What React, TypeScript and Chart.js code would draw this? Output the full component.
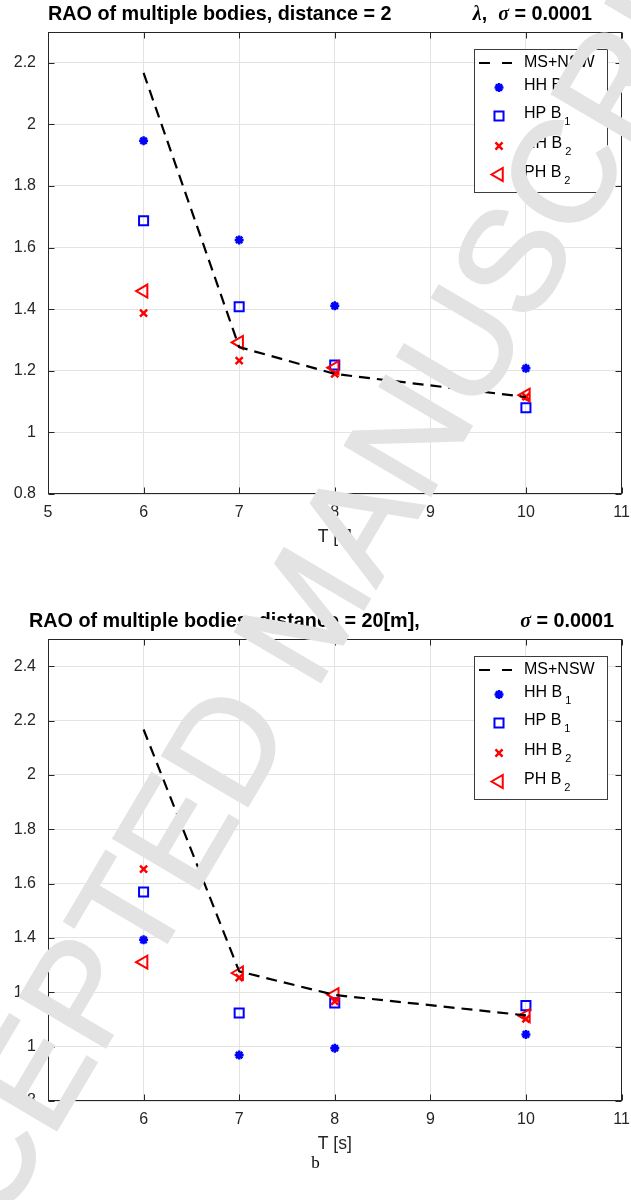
import React, { useEffect, useRef } from "react";
import { Chart, registerables } from "chart.js";

Chart.register(...registerables);

// Wave periods T [s] at which the RAOs were evaluated
const periods = [6, 7, 8, 10];
const xTickValues = [5, 6, 7, 8, 9, 10, 11];

// MS+NSW reference curve (identical in both panels)
const msNsw = [2.167, 1.277, 1.19, 1.115];

// Upper panel: distance = 2
const hhB1Near = [1.947, 1.625, 1.411, 1.208];
const hpB1Near = [1.687, 1.408, 1.219, 1.08];
const hhB2Near = [1.387, 1.233, 1.19, 1.116];
const phB2Near = [1.459, 1.292, 1.21, 1.121];

// Lower panel: distance = 20 m
const hhB1Far = [1.393, 0.969, 0.994, 1.045];
const hpB1Far = [1.569, 1.124, 1.161, 1.151];
const hhB2Far = [1.653, 1.254, 1.167, 1.102];
const phB2Far = [1.311, 1.271, 1.191, 1.114];

// Legend text: main label plus subscript
const legendMain = ["MS+NSW", "HH B", "HP B", "HH B", "PH B"];
const legendSub = ["", "1", "1", "2", "2"];

const AXIS = "#262626";
const GRID = "#e3e3e3";
const BLUE = "#0000ff";
const RED = "#ff0000";
const SANS = '"Liberation Sans", Arial, Helvetica, sans-serif';
const SERIF = '"Liberation Serif", "DejaVu Serif", Times, serif';

type TitlePiece = { text: string; greek?: boolean };
type Panel = {
  hhB1: number[];
  hpB1: number[];
  hhB2: number[];
  phB2: number[];
  yMax: number;
  titleLeft: string;
  titleLeftX: number;
  titleRight: TitlePiece[];
  titleRightEnd: number;
};

const panelNear: Panel = {
  hhB1: hhB1Near,
  hpB1: hpB1Near,
  hhB2: hhB2Near,
  phB2: phB2Near,
  yMax: 2.3,
  titleLeft: "RAO of multiple bodies, distance = 2",
  titleLeftX: 48,
  titleRight: [{ text: "λ", greek: true }, { text: ",  " }, { text: "σ", greek: true }, { text: " = 0.0001" }],
  titleRightEnd: 592,
};

const panelFar: Panel = {
  hhB1: hhB1Far,
  hpB1: hpB1Far,
  hhB2: hhB2Far,
  phB2: phB2Far,
  yMax: 2.5,
  titleLeft: "RAO of multiple bodies, distance = 20[m],",
  titleLeftX: 29,
  titleRight: [{ text: "σ", greek: true }, { text: " = 0.0001" }],
  titleRightEnd: 614,
};

const pts = (ys: number[]) => periods.map((x, i) => ({ x, y: ys[i] }));

function drawMarker(ctx: CanvasRenderingContext2D, kind: number, x: number, y: number) {
  ctx.save();
  ctx.setLineDash([]);
  ctx.beginPath();
  if (kind === 1) {
    const r = 4.5;
    const d = r * Math.SQRT1_2;
    ctx.moveTo(x - r, y); ctx.lineTo(x + r, y);
    ctx.moveTo(x, y - r); ctx.lineTo(x, y + r);
    ctx.moveTo(x - d, y - d); ctx.lineTo(x + d, y + d);
    ctx.moveTo(x - d, y + d); ctx.lineTo(x + d, y - d);
    ctx.strokeStyle = BLUE; ctx.lineWidth = 2.5; ctx.stroke();
  } else if (kind === 2) {
    const s = 6.4 * Math.SQRT1_2;
    ctx.rect(x - s, y - s, 2 * s, 2 * s);
    ctx.strokeStyle = BLUE; ctx.lineWidth = 2; ctx.stroke();
  } else if (kind === 3) {
    const d = 5 * Math.SQRT1_2;
    ctx.moveTo(x - d, y - d); ctx.lineTo(x + d, y + d);
    ctx.moveTo(x - d, y + d); ctx.lineTo(x + d, y - d);
    ctx.strokeStyle = RED; ctx.lineWidth = 2.5; ctx.stroke();
  } else if (kind === 4) {
    const r = 7.5;
    ctx.moveTo(x - r, y);
    ctx.lineTo(x + r / 2, y - r * 0.866);
    ctx.lineTo(x + r / 2, y + r * 0.866);
    ctx.closePath();
    ctx.strokeStyle = RED; ctx.lineWidth = 2; ctx.stroke();
  }
  ctx.restore();
}

function makeFramePlugin(panel: Panel) {
  return {
    id: "frame",
    afterDraw(chart: any) {
      const { ctx, chartArea: a, scales } = chart;
      ctx.save();

      // axes box
      const L = Math.round(a.left) + 0.5;
      const R = Math.round(a.right) - 0.5;
      const T = Math.round(a.top) + 0.5;
      const B = Math.round(a.bottom) - 0.5;
      ctx.strokeStyle = AXIS;
      ctx.lineWidth = 1;
      ctx.strokeRect(L, T, R - L, B - T);

      // inward tick marks on all four sides
      const tl = 6;
      ctx.beginPath();
      for (const v of xTickValues) {
        const px = Math.round(scales.x.getPixelForValue(v)) + 0.5;
        ctx.moveTo(px, B); ctx.lineTo(px, B - tl);
        ctx.moveTo(px, T); ctx.lineTo(px, T + tl);
      }
      for (const t of scales.y.ticks) {
        const py = Math.round(scales.y.getPixelForValue(t.value)) + 0.5;
        ctx.moveTo(L, py); ctx.lineTo(L + tl, py);
        ctx.moveTo(R, py); ctx.lineTo(R - tl, py);
      }
      ctx.stroke();

      // legend box
      const lx0 = 474.5, lx1 = 607.5;
      const ly0 = Math.round(a.top) + 17.5;
      const ly1 = ly0 + 143;
      ctx.fillStyle = "#ffffff";
      ctx.fillRect(lx0, ly0, lx1 - lx0, ly1 - ly0);
      ctx.strokeStyle = "#3c3c3c";
      ctx.lineWidth = 1;
      ctx.strokeRect(lx0, ly0, lx1 - lx0, ly1 - ly0);

      const rowY = [ly0 + 13.5, ly0 + 38, ly0 + 66.5, ly0 + 96.5, ly0 + 125];
      // dashed-line sample
      ctx.beginPath();
      ctx.moveTo(479, rowY[0]); ctx.lineTo(490, rowY[0]);
      ctx.moveTo(502, rowY[0]); ctx.lineTo(512, rowY[0]);
      ctx.strokeStyle = "#000"; ctx.lineWidth = 2.2; ctx.stroke();
      for (let k = 1; k < 5; k++) drawMarker(ctx, k, 499, rowY[k]);

      ctx.fillStyle = "#000";
      ctx.textBaseline = "middle";
      ctx.textAlign = "left";
      for (let k = 0; k < 5; k++) {
        const ty = k === 0 ? rowY[0] : rowY[k] - 2;
        ctx.font = `16px ${SANS}`;
        ctx.fillText(legendMain[k], 524, ty);
        if (legendSub[k]) {
          const w = ctx.measureText(legendMain[k]).width;
          ctx.font = `11px ${SANS}`;
          ctx.fillText(legendSub[k], 524 + w + 3, ty + 8);
        }
      }

      // title
      const titleY = Math.round(a.top) - 17;
      ctx.fillStyle = "#000";
      ctx.font = `bold 19.8px ${SANS}`;
      ctx.fillText(panel.titleLeft, panel.titleLeftX, titleY);
      const fonts = panel.titleRight.map((p) =>
        p.greek ? `italic bold 20px ${SERIF}` : `bold 19.8px ${SANS}`
      );
      const widths = panel.titleRight.map((p, i) => {
        ctx.font = fonts[i];
        return ctx.measureText(p.text).width;
      });
      let x = panel.titleRightEnd - widths.reduce((s, w) => s + w, 0);
      panel.titleRight.forEach((p, i) => {
        ctx.font = fonts[i];
        ctx.fillText(p.text, x, titleY);
        x += widths[i];
      });

      ctx.restore();
    },
  };
}

function buildConfig(panel: Panel): any {
  return {
    type: "line",
    data: {
      datasets: [
        {
          label: "MS+NSW",
          data: pts(msNsw),
          borderColor: "#000000",
          borderWidth: 2.2,
          borderDash: [11, 7],
          pointRadius: 0,
          fill: false,
          tension: 0,
          order: 0,
        },
        {
          label: "HH B1",
          data: pts(panel.hhB1),
          showLine: false,
          pointStyle: "star",
          pointRadius: 4.5,
          pointBorderWidth: 2.5,
          borderColor: BLUE,
          pointBorderColor: BLUE,
          pointBackgroundColor: BLUE,
          order: 4,
        },
        {
          label: "HP B1",
          data: pts(panel.hpB1),
          showLine: false,
          pointStyle: "rect",
          pointRadius: 6.4,
          pointBorderWidth: 2,
          borderColor: BLUE,
          pointBorderColor: BLUE,
          pointBackgroundColor: "rgba(0,0,0,0)",
          order: 3,
        },
        {
          label: "HH B2",
          data: pts(panel.hhB2),
          showLine: false,
          pointStyle: "crossRot",
          pointRadius: 5,
          pointBorderWidth: 2.5,
          borderColor: RED,
          pointBorderColor: RED,
          pointBackgroundColor: RED,
          order: 2,
        },
        {
          label: "PH B2",
          data: pts(panel.phB2),
          showLine: false,
          pointStyle: "triangle",
          pointRotation: -90,
          pointRadius: 7.5,
          pointBorderWidth: 2,
          borderColor: RED,
          pointBorderColor: RED,
          pointBackgroundColor: "rgba(0,0,0,0)",
          order: 1,
        },
      ],
    },
    options: {
      animation: false,
      responsive: false,
      devicePixelRatio: 1,
      events: [],
      layout: { padding: { top: 32, right: 6, left: 0, bottom: 0 } },
      plugins: {
        legend: { display: false },
        title: { display: false },
        tooltip: { enabled: false },
      },
      scales: {
        x: {
          type: "linear",
          min: 5,
          max: 11,
          afterBuildTicks: (scale: any) => {
            scale.ticks = xTickValues.map((v) => ({ value: v }));
          },
          afterFit: (scale: any) => {
            scale.height = 66;
            scale.paddingLeft = 0;
            scale.paddingRight = 0;
          },
          grid: { color: GRID, lineWidth: 1, drawTicks: false },
          border: { display: false },
          ticks: {
            padding: 9,
            color: AXIS,
            maxRotation: 0,
            autoSkip: false,
            font: { family: SANS, size: 16 },
            callback: (v: number) => String(v),
          },
          title: {
            display: true,
            text: "T [s]",
            color: AXIS,
            font: { family: SANS, size: 17.6 },
            padding: { top: 0, bottom: 12 },
          },
        },
        y: {
          type: "linear",
          min: 0.8,
          max: panel.yMax,
          afterFit: (scale: any) => {
            scale.width = 48;
            scale.paddingTop = 0;
            scale.paddingBottom = 0;
          },
          grid: { color: GRID, lineWidth: 1, drawTicks: false },
          border: { display: false },
          ticks: {
            stepSize: 0.2,
            includeBounds: false,
            padding: 12,
            color: AXIS,
            font: { family: SANS, size: 16 },
            callback: (v: number) => String(Math.round(v * 10) / 10),
          },
        },
      },
    },
    plugins: [makeFramePlugin(panel)],
  };
}

function RaoPanel({ panel, top }: { panel: Panel; top: number }) {
  const ref = useRef<HTMLCanvasElement>(null);
  useEffect(() => {
    if (!ref.current) return;
    const chart = new Chart(ref.current, buildConfig(panel));
    return () => chart.destroy();
  }, [panel]);
  return (
    <canvas
      ref={ref}
      width={631}
      height={560}
      style={{ position: "absolute", left: 0, top, width: 631, height: 560 }}
    />
  );
}

export default function App() {
  return (
    <div
      style={{
        position: "absolute",
        left: 0,
        top: 0,
        width: 631,
        height: 1200,
        background: "#ffffff",
        overflow: "hidden",
      }}
    >
      <RaoPanel panel={panelNear} top={0} />
      <RaoPanel panel={panelFar} top={607} />
      <div
        style={{
          position: "absolute",
          left: 0,
          top: 1153,
          width: 631,
          textAlign: "center",
          font: `17px ${SERIF}`,
          color: "#000",
        }}
      >
        b
      </div>
      <div
        style={{
          position: "absolute",
          left: 305,
          top: 612,
          transform: "translate(-50%, -50%) rotate(-59.5deg)",
          fontFamily: SANS,
          fontSize: 144,
          lineHeight: 1,
          whiteSpace: "nowrap",
          color: "#e3e3e3",
          WebkitTextStroke: "2.5px #e3e3e3",
          pointerEvents: "none",
        }}
      >
        ACCEPTED MANUSCRIPT
      </div>
    </div>
  );
}
